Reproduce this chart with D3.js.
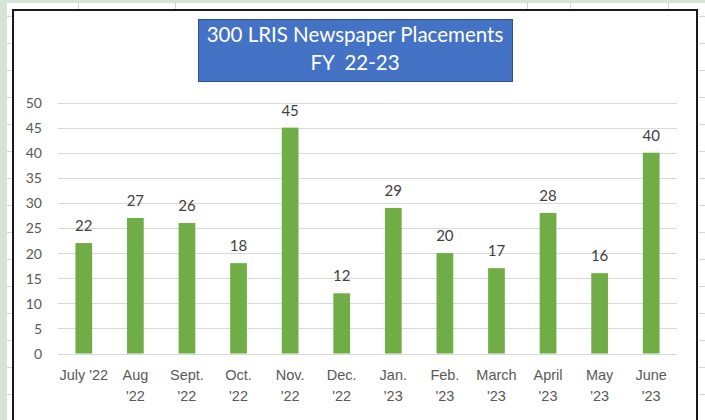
<!DOCTYPE html>
<html>
<head>
<meta charset="utf-8">
<script src="https://cdn.jsdelivr.net/npm/d3@7"></script>
<style>
  body { margin: 0; background: #fff; }
  svg { display: block; font-family: Lato, "Open Sans", sans-serif; }
  .grid line { stroke: #d9d9d9; stroke-width: 1; }
  .tick text { fill: #595959; }
</style>
</head>
<body>
<div id="chart"></div>
<script>
// months shown on the x axis ("\n" = line break as in the original)
const months = ["July '22", "Aug\n'22", "Sept.\n'22", "Oct.\n'22", "Nov.\n'22", "Dec.\n'22",
                "Jan.\n'23", "Feb.\n'23", "March\n'23", "April\n'23", "May\n'23", "June\n'23"];
const placements = [22, 27, 26, 18, 45, 12, 29, 20, 17, 28, 16, 40];
const yTicks = [0, 5, 10, 15, 20, 25, 30, 35, 40, 45, 50];
const titleLines = ["300 LRIS Newspaper Placements", "FY  22-23"];

const W = 705, H = 420;
const svg = d3.select("#chart").append("svg").attr("width", W).attr("height", H);

// --- spreadsheet background behind the chart object ---
svg.append("rect").attr("width", W).attr("height", H).attr("fill", "#fff");
svg.append("rect").attr("x", 0).attr("y", 0).attr("width", 7).attr("height", H).attr("fill", "#d6e3d7");
svg.append("rect").attr("x", 0).attr("y", 0).attr("width", W).attr("height", 3).attr("fill", "#d6e3d7");
const cells = svg.append("g").attr("stroke", "#d4d4d4").attr("stroke-width", 1);
d3.range(16.5, H, 27).forEach(y => {
    cells.append("line").attr("x1", 7).attr("x2", 12).attr("y1", y).attr("y2", y);
    cells.append("line").attr("x1", 699).attr("x2", W).attr("y1", y).attr("y2", y);
});
[78.5, 175.5, 527.5, 570.5, 668.5].forEach(x => {
    cells.append("line").attr("x1", x).attr("x2", x).attr("y1", 3).attr("y2", 9);
});

// chart area
svg.append("rect").attr("x", 13).attr("y", 10).attr("width", 684).attr("height", H)
    .attr("fill", "#fff").attr("stroke", "#1a1a1a").attr("stroke-width", 2);

const plot = {left: 58, right: 677, top: 102.5, bottom: 353.5};

const x = d3.scaleBand().domain(months).range([plot.left, plot.right]).paddingInner(0.676).paddingOuter(0.338);
const y = d3.scaleLinear().domain([0, 50]).range([plot.bottom, plot.top]);

// gridlines
svg.append("g").attr("class", "grid")
    .selectAll("line").data(yTicks).join("line")
    .attr("x1", plot.left).attr("x2", plot.right)
    .attr("y1", d => Math.round(y(d)) + 0.5).attr("y2", d => Math.round(y(d)) + 0.5);

// y axis labels
const yAxis = svg.append("g").attr("transform", `translate(${plot.left - 16},0)`)
    .call(d3.axisLeft(y).tickValues(yTicks).tickSize(0).tickPadding(0));
yAxis.select(".domain").remove();
yAxis.selectAll("text").attr("font-size", 14).attr("font-family", "Lato, sans-serif").attr("dy", "0.35em");

// bars
svg.append("g").selectAll("rect").data(placements).join("rect")
    .attr("x", (d, i) => x(months[i]))
    .attr("y", d => y(d))
    .attr("width", x.bandwidth())
    .attr("height", d => y(0) - y(d))
    .attr("fill", "#70ad47");

// value labels
svg.append("g").selectAll("text").data(placements).join("text")
    .attr("x", (d, i) => x(months[i]) + x.bandwidth() / 2)
    .attr("y", d => y(d) - 12)
    .attr("text-anchor", "middle")
    .attr("font-size", 15)
    .attr("fill", "#404040")
    .text(d => d);

// x axis labels
const xAxis = svg.append("g").attr("transform", `translate(0,${plot.bottom})`)
    .call(d3.axisBottom(x).tickSize(0).tickFormat(""));
xAxis.select(".domain").remove();
xAxis.selectAll(".tick").each(function(d) {
    const t = d3.select(this).append("text")
        .attr("text-anchor", "middle").attr("font-size", 14.5).attr("fill", "#595959");
    d.split("\n").forEach((line, i) => {
        t.append("tspan").attr("x", 0).attr("y", 26 + i * 21).text(line);
    });
});

// title box
const tb = {x: 198, y: 19, w: 314, h: 62};
svg.append("rect").attr("x", tb.x + 0.5).attr("y", tb.y + 0.5).attr("width", tb.w).attr("height", tb.h)
    .attr("fill", "#4472c4").attr("stroke", "#2f528f").attr("stroke-width", 1);
titleLines.forEach((line, i) => {
    svg.append("text")
        .attr("x", tb.x + tb.w / 2).attr("y", 42 + i * 28)
        .attr("text-anchor", "middle")
        .attr("font-size", 20.5)
        .attr("fill", "#fff")
        .style("white-space", "pre")
        .text(line);
});
</script>
</body>
</html>
